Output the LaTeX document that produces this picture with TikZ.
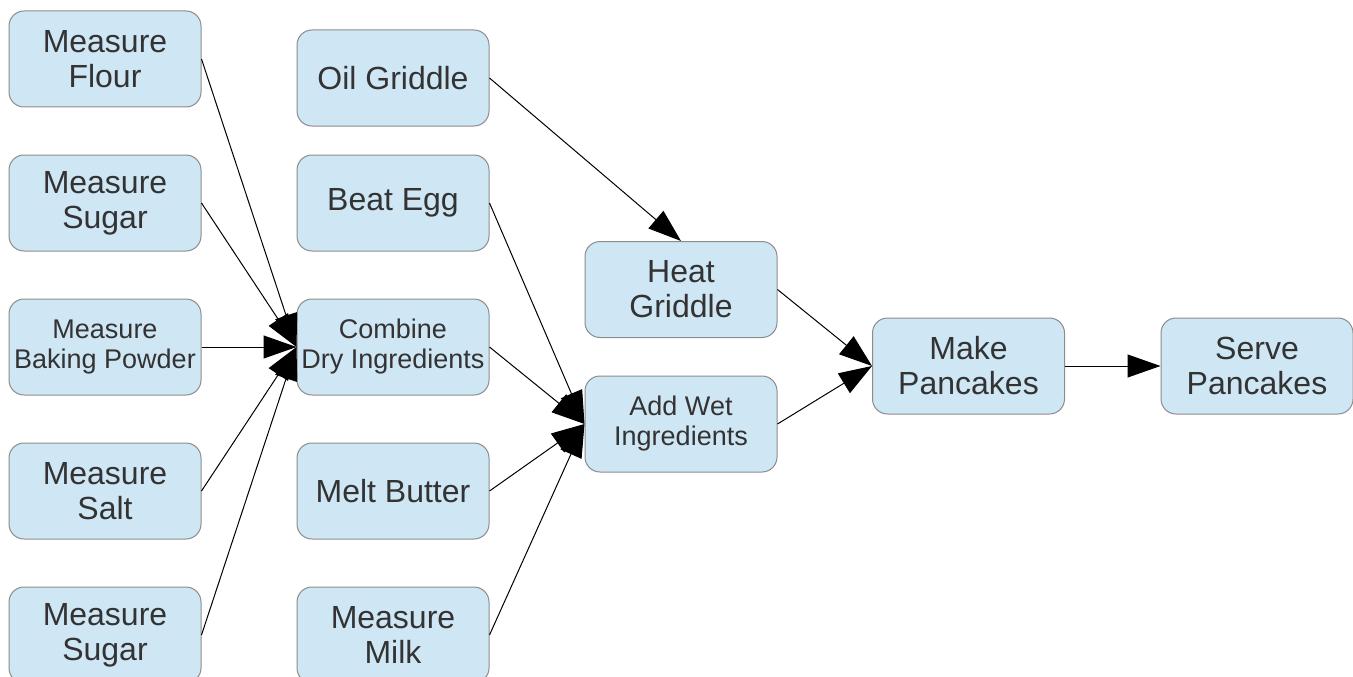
\documentclass[tikz,border=0pt]{standalone}
\usepackage{fontspec}
\setmainfont{Liberation Sans}
\usetikzlibrary{arrows.meta}
\definecolor{boxfill}{RGB}{207,230,244}
\definecolor{boxline}{RGB}{140,140,140}
\definecolor{txt}{RGB}{51,51,51}
\tikzset{
  task/.style={draw=boxline, line width=1pt, fill=boxfill, rounded corners=15pt,
    minimum width=192pt, minimum height=96pt, inner sep=0pt, align=center,
    text=txt, font=\fontsize{32pt}{35pt}\selectfont},
  smalltask/.style={task, font=\fontsize{27pt}{30pt}\selectfont},
  flow/.style={draw=black, line width=1pt, -{Triangle[length=33pt,width=23pt]}}
}
\begin{document}
\begin{tikzpicture}[x=1pt,y=-1pt]
\useasboundingbox (0,0) rectangle (1353,677);
% column 1
\node[task] (flour) at (105,59) {Measure\\Flour};
\node[task] (sugar) at (105,203) {Measure\\Sugar};
\node[smalltask] (baking) at (105,347) {Measure\\Baking Powder};
\node[task] (salt) at (105,491) {Measure\\Salt};
\node[task] (sugarb) at (105,635) {Measure\\Sugar};
% column 2
\node[task] (oil) at (393,78) {Oil Griddle};
\node[task] (egg) at (393,203) {Beat Egg};
\node[smalltask] (dry) at (393,347) {Combine\\Dry Ingredients};
\node[task] (butter) at (393,491) {Melt Butter};
\node[task] (milk) at (393,635) {Measure\\Milk};
% column 3
\node[task] (heat) at (681,289.5) {Heat\\Griddle};
\node[smalltask] (wet) at (681,424) {Add Wet\\Ingredients};
% right
\node[task] (make) at (968.5,366) {Make\\Pancakes};
\node[task] (serve) at (1257,366) {Serve\\Pancakes};
% connectors
\foreach \s in {flour,sugar,baking,salt,sugarb}
  \draw[flow] (\s.east) -- (dry.west);
\foreach \s in {egg,dry,butter,milk}
  \draw[flow] (\s.east) -- (wet.west);
\draw[flow] (oil.east) -- (heat.north);
\draw[flow] (heat.east) -- (make.west);
\draw[flow] (wet.east) -- (make.west);
\draw[flow] (make.east) -- (serve.west);
\end{tikzpicture}
\end{document}
